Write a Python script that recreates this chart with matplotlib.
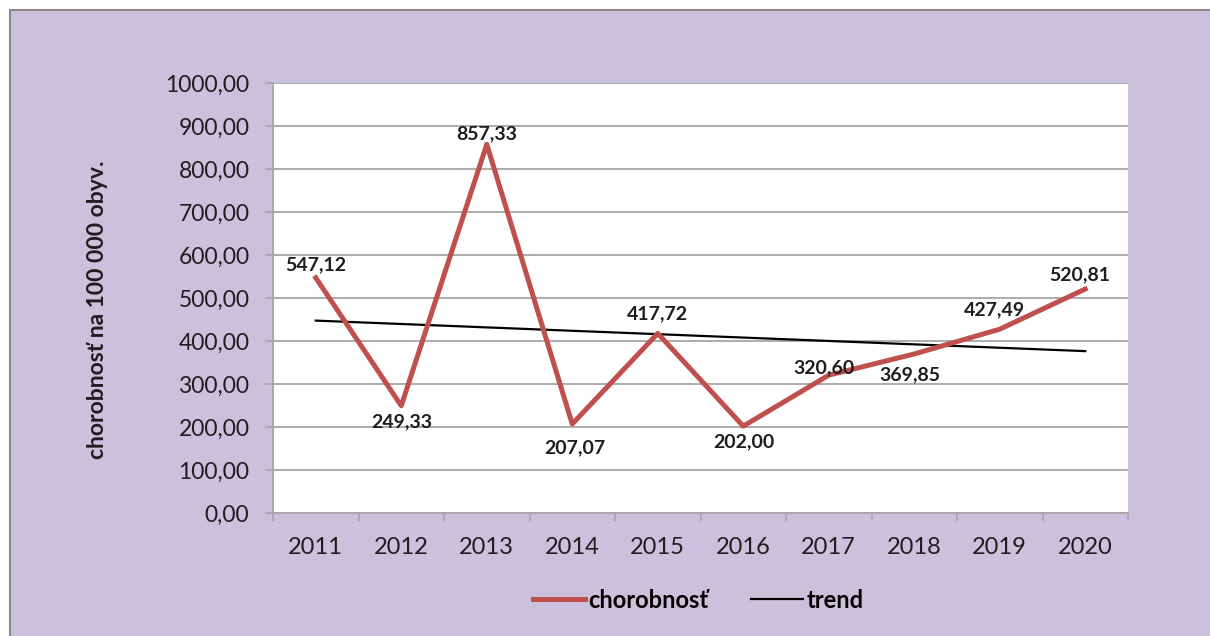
import numpy as np
import matplotlib.pyplot as plt
from matplotlib.patches import Rectangle
from matplotlib.ticker import FuncFormatter, FixedLocator

years = ["2011", "2012", "2013", "2014", "2015", "2016", "2017", "2018", "2019", "2020"]
chorobnost = [547.12, 249.33, 857.33, 207.07, 417.72, 202.00, 320.60, 369.85, 427.49, 520.81]

# data label placement (pixels relative to the point), like in the Excel original
label_dx = [0, 0, 0, 3, 0, 1, -5, -4, -5, -6]
label_dy = [13, -16, 11, -24, 20, -16, 7, -21, 19, 14]

plt.rcParams['font.family'] = ['Lato', 'DejaVu Sans']

bg = "#CCC1DC"
red = "#C0504D"
grid = "#A6A6A6"
txtc = "#1E1E1E"

fig = plt.figure(figsize=(12.1, 6.36), dpi=100, facecolor="white")
fig.patches.append(Rectangle((10 / 1210, -0.1), 1.2, 1.1 - 10 / 636, transform=fig.transFigure,
                             facecolor=bg, edgecolor="#8C8C8C", linewidth=1.5, zorder=-10))

ax = fig.add_axes([273 / 1210, 1 - 513 / 636, 855 / 1210, 430 / 636])
ax.set_facecolor("white")

x = np.arange(len(years))
y = np.array(chorobnost)

# linear trend like Excel's trendline
k, q = np.polyfit(x, y, 1)
ax.plot(x, k * x + q, color="black", linewidth=1.6, label="trend", zorder=3)
ax.plot(x, y, color=red, linewidth=3.6, label="chorobnosť", zorder=4)

for xi, yi, dx, dy in zip(x, y, label_dx, label_dy):
    txt = f"{yi:.2f}".replace(".", ",")
    ax.annotate(txt, (xi, yi), xytext=(dx, dy), textcoords="offset pixels",
                ha="center", va="center", fontsize=14, fontweight="bold", color=txtc, zorder=5)

ax.set_xlim(-0.5, len(years) - 0.5)
ax.set_ylim(0, 1000)
ax.set_yticks(np.arange(0, 1001, 100))
ax.yaxis.set_major_formatter(FuncFormatter(lambda v, p: f"{v:.2f}".replace(".", ",")))
ax.set_xticks(x)
ax.set_xticklabels(years)
ax.xaxis.set_minor_locator(FixedLocator(np.arange(-0.5, len(years), 1.0)))
ax.tick_params(axis="x", which="major", length=0, pad=17, labelsize=17, colors=txtc)
ax.tick_params(axis="x", which="minor", length=6, width=1.2, color=grid)
ax.tick_params(axis="y", length=6, width=1.2, color=grid, labelsize=16.5, labelcolor=txtc, pad=11)

ax.grid(axis="y", color=grid, linewidth=1.3)
ax.set_axisbelow(True)
for s in ["top", "right"]:
    ax.spines[s].set_visible(False)
for s in ["left", "bottom"]:
    ax.spines[s].set_color(grid)
    ax.spines[s].set_linewidth(1.3)

fig.text(98 / 1210, 1 - 310 / 636, "chorobnosť na 100 000 obyv.", rotation=90,
         ha="center", va="center", fontsize=16.5, fontweight="bold", color=txtc)

h, l = ax.get_legend_handles_labels()
fig.legend([h[1], h[0]], [l[1], l[0]], loc="center", bbox_to_anchor=(698 / 1210, 1 - 600 / 636),
           ncol=2, frameon=False, handlelength=2.2, handletextpad=0.15, columnspacing=1.8,
           prop={"weight": "bold", "size": 17})

fig.savefig("out.png", dpi=100, facecolor=fig.get_facecolor())
